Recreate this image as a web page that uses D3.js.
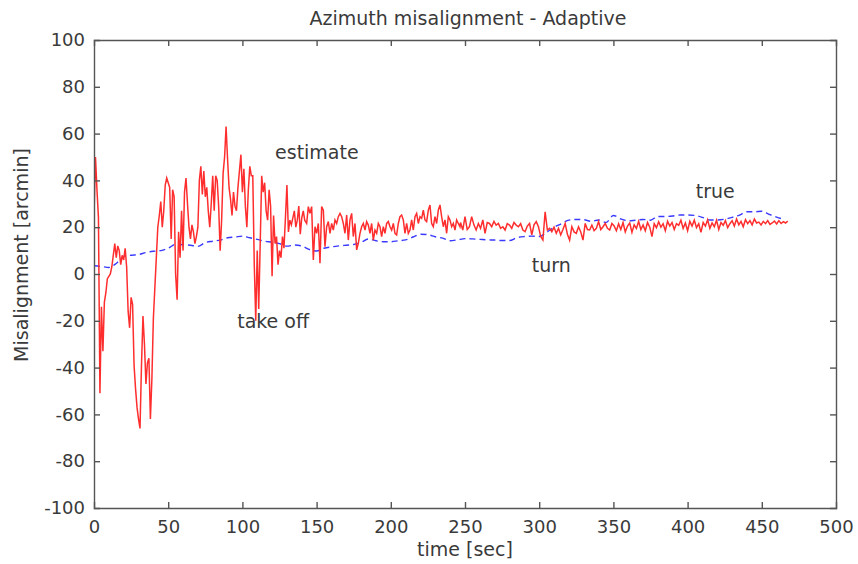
<!DOCTYPE html>
<html>
<head>
<meta charset="utf-8">
<script src="https://cdn.jsdelivr.net/npm/d3@7"></script>
<style>
  html, body { margin: 0; padding: 0; background: #fff; }
  svg { display: block; }
  text { font-family: "DejaVu Sans", sans-serif; fill: #3a3a3a; }
</style>
</head>
<body>
<svg id="chart" width="858" height="564"></svg>
<script>
// ---------------- data ----------------
const xTicks = [0, 50, 100, 150, 200, 250, 300, 350, 400, 450, 500];
const yTicks = [-100, -80, -60, -40, -20, 0, 20, 40, 60, 80, 100];

// estimate (red), segment A: t = 0,1,2,...
const estimateA = [
  25, 50, 36, 24, -51, -14, -33, -12, -8, -2,
  -1, 0, 3, 8, 13, 7, 12, 10, 4, 8,
  6, 11, 3, -16, -23, -10, -13, -39, -49, -57,
  -62, -66, -39, -18, -30, -47, -38, -36, -62, -45,
  -19, -6, 7, 20, 25, 31, 20, 27, 38, 41,
  39, 37, 15, 36, 33, 0, -11, 18, 7, 27,
  10, 35, 41, 30, 20, 15, 21, 18, 13, 16,
  20, 40, 46, 34, 44, 33, 37, 27, 20, 30,
  42, 27, 42, 40, 29, 10, 23, 43, 50, 63,
  49, 37, 32, 25, 35, 29, 27, 37, 44, 51,
  35, 45, 29, 20, 36, 46, 42, 42, 4, -20,
  10, -15, 13, 42, 35, 39, 27, 23, 36, 29,
  -1, 25, 13, 16, 4, 10, 7, 16, 11, 24,
  38, 18, 23, 21, 24, 27, 20, 23, 29, 17,
  24, 27, 23
];
// segment B: t from 143.3, step 1.123
const estimateB = [
  21.6, 28.8, 25.9, 28.8, 6, 20.2, 17.4, 21.6, 4.6, 28.8,
  27.3, 11.7, 20.2, 22.4, 17.4, 21.6, 18.8, 23.1, 21.6, 24.5,
  25.9, 24.5, 21.6, 17.4, 25.2, 14.5, 23.1, 25.9, 16, 21.6,
  10.3, 13.1, 17.4, 20.2, 21.6, 18.8, 22.4, 20.9, 17.4, 21.6,
  14.5, 18.8, 17.4, 21.6, 20.2, 16, 20.2, 17.4, 21.6, 22.4,
  20.2, 18.8, 21.6, 17.4, 16.7, 21.6, 24.5, 25.2, 23.1, 17.4,
  21.6, 17.4, 18.8, 23.1, 18.8, 24.5, 25.9, 21.6, 24.5, 23.8,
  27.3, 23.1, 22.4, 27.3, 29.5, 21.6, 20.2, 24.5, 21.6, 27.3,
  29.5, 24.5, 20.2, 23.1, 17.4, 24.5, 23.1, 20.2, 21.6, 18.8,
  23.1, 21.6, 20.2
];
// segment C: t from 247, step 1.5
const estimateC = [
  22, 18.8, 24.5, 19, 20.2, 24.5, 21, 18.8, 21.6, 19.5,
  23.1, 17.4, 22, 21.6, 20.2, 22.5, 20.9, 21.6, 19.5, 20.2,
  18.8, 21.5, 20.9, 19.5, 22, 20.9, 20.2, 21.5, 18.8, 18.1,
  20.5, 21.6, 16.7, 21, 22.4, 20.2, 16, 14.5, 26.6, 18.8,
  19.5, 18.1, 20, 17.4, 19.5, 16.7, 19, 21.6, 17, 14.5,
  20.2, 18, 17.4, 20.2, 18, 14.5, 21.6, 19, 18.8, 20.9,
  18.5, 19.5, 22.4, 19, 20.2, 21.6, 19.5, 18.8, 21.6
];
// segment D: t from 350.5, step 1.5
const estimateD = [
  20.5, 18.5, 21.5, 19, 22, 18, 20.5, 21.8, 17.8, 21,
  19.5, 22.5, 19, 21, 18.5, 22, 20, 16, 21.5, 19.8,
  22.3, 20, 21.5, 18.5, 22.5, 20.5, 22, 19, 21.5, 20.8,
  23, 19.5, 21.8, 18.5, 22.5, 20.5, 23, 19.8, 21.5, 17.8,
  22, 20.5, 23.2, 19.5, 21.8, 20.2, 23, 19, 22, 20.8,
  22.8, 19.8, 21.5, 22.8, 20.5, 23.5, 21, 22.5, 20.2, 23.2,
  21.5, 22.8, 21, 23.5, 21.8, 22.2, 21, 22.5, 21.5, 22.8,
  21.2, 21.8, 22.6, 21.4, 22.8, 21.6, 22.4, 21.8, 22.6
];

// true (blue dashed), t = 0,5,10,...
const trueValues = [
  3.5, 3.2, 2.8, 4.5, 7.5, 8.0, 8.3, 9.2, 9.7, 10.0,
  11.0, 12.7, 12.5, 12.3, 11.8, 13.4, 14.0, 14.5, 15.5, 15.8,
  16.2, 15.5, 14.8, 14.0, 13.6, 13.0, 11.9, 12.4, 12.0, 10.5,
  9.8, 11.0, 11.6, 12.0, 12.3, 12.6, 13.5, 15.0, 14.2, 13.8,
  13.8, 14.2, 14.6, 15.8, 17.0, 16.8, 15.9, 15.3, 14.2, 14.6,
  15.1, 15.0, 14.8, 14.6, 14.5, 14.3, 14.3, 15.5, 16.0, 16.2,
  16.0, 17.8, 20.0, 21.5, 23.0, 23.3, 23.2, 22.5, 23.1, 22.0,
  25.0, 23.5, 22.7, 23.0, 23.3, 23.0, 24.6, 24.6, 24.8, 25.2,
  25.2, 25.0, 24.2, 23.1, 23.1, 23.4, 24.2, 25.2, 26.6, 26.6,
  26.8, 25.5, 24.3, 23.3
];

const annotations = [
  { text: "estimate", t: 122, v: 49 },
  { text: "take off", t: 96.5, v: -23 },
  { text: "turn", t: 295, v: 1 },
  { text: "true", t: 405.5, v: 32.5 }
];

// ---------------- layout ----------------
const W = 858, H = 564;
const m = { left: 94, right: 836, top: 40, bottom: 508 };

const svg = d3.select("#chart");
svg.append("rect").attr("width", W).attr("height", H).attr("fill", "#fff");

const x = d3.scaleLinear().domain([0, 500]).range([m.left, m.right]);
const y = d3.scaleLinear().domain([-100, 100]).range([m.bottom, m.top]);

function seg(start, step, arr) {
  return arr.map((v, i) => ({ t: start + i * step, v }));
}
const estimate = [].concat(
  seg(0, 1, estimateA),
  seg(143.3, 1.123, estimateB),
  seg(247, 1.5, estimateC),
  seg(350.5, 1.5, estimateD)
);
const truth = seg(0, 5, trueValues);

svg.append("clipPath").attr("id", "clip")
  .append("rect")
  .attr("x", m.left).attr("y", m.top)
  .attr("width", m.right - m.left).attr("height", m.bottom - m.top);

const g = svg.append("g").attr("clip-path", "url(#clip)");
g.append("path")
  .datum(truth)
  .attr("d", d3.line().x(d => x(d.t)).y(d => y(d.v)).curve(d3.curveMonotoneX))
  .attr("fill", "none")
  .attr("stroke", "#3a3aff")
  .attr("stroke-width", 1.4)
  .attr("stroke-dasharray", "6,4");

g.append("path")
  .datum(estimate)
  .attr("d", d3.line().x(d => x(d.t)).y(d => y(d.v)))
  .attr("fill", "none")
  .attr("stroke", "#ff2e2e")
  .attr("stroke-width", 1.5)
  .attr("stroke-linejoin", "miter");

// axes (MATLAB-like box with inward ticks)
const axisColor = "#555";
const tickLen = 6;
const fmt = d => String(d);
const bottomAxis = svg.append("g").attr("transform", `translate(0,${m.bottom})`)
  .call(d3.axisBottom(x).tickValues(xTicks).tickSize(-tickLen).tickPadding(12).tickFormat(fmt));
const topAxis = svg.append("g").attr("transform", `translate(0,${m.top})`)
  .call(d3.axisTop(x).tickValues(xTicks).tickSize(-tickLen).tickFormat(""));
const leftAxis = svg.append("g").attr("transform", `translate(${m.left},0)`)
  .call(d3.axisLeft(y).tickValues(yTicks).tickSize(-tickLen).tickPadding(9).tickFormat(fmt));
const rightAxis = svg.append("g").attr("transform", `translate(${m.right},0)`)
  .call(d3.axisRight(y).tickValues(yTicks).tickSize(-tickLen).tickFormat(""));

[bottomAxis, topAxis, leftAxis, rightAxis].forEach(a => {
  a.select(".domain").attr("stroke", axisColor).attr("stroke-width", 1.4);
  a.selectAll(".tick line").attr("stroke", axisColor).attr("stroke-width", 1.4);
  a.selectAll(".tick text").attr("fill", "#3a3a3a").style("font-family", '"DejaVu Sans", sans-serif').style("font-size", "18px");
});
// hide ticks that sit on the box corners
topAxis.selectAll(".tick").filter(d => d === 0 || d === 500).select("line").remove();
bottomAxis.selectAll(".tick").filter(d => d === 0 || d === 500).select("line").remove();
leftAxis.selectAll(".tick").filter(d => d === -100 || d === 100).select("line").remove();
rightAxis.selectAll(".tick").filter(d => d === -100 || d === 100).select("line").remove();

// titles
svg.append("text")
  .attr("x", (m.left + m.right) / 2 + 3).attr("y", 25)
  .attr("text-anchor", "middle")
  .style("font-size", "19px")
  .text("Azimuth misalignment - Adaptive");

svg.append("text")
  .attr("x", (m.left + m.right) / 2).attr("y", 556)
  .attr("text-anchor", "middle")
  .style("font-size", "19px")
  .text("time [sec]");

svg.append("text")
  .attr("transform", `translate(28,${(m.top + m.bottom) / 2 - 19}) rotate(-90)`)
  .attr("text-anchor", "middle")
  .style("font-size", "19px")
  .text("Misalignment [arcmin]");

// annotations
svg.selectAll("text.ann")
  .data(annotations)
  .join("text")
  .attr("class", "ann")
  .attr("x", d => x(d.t))
  .attr("y", d => y(d.v))
  .style("font-size", "19px")
  .text(d => d.text);
</script>
</body>
</html>
